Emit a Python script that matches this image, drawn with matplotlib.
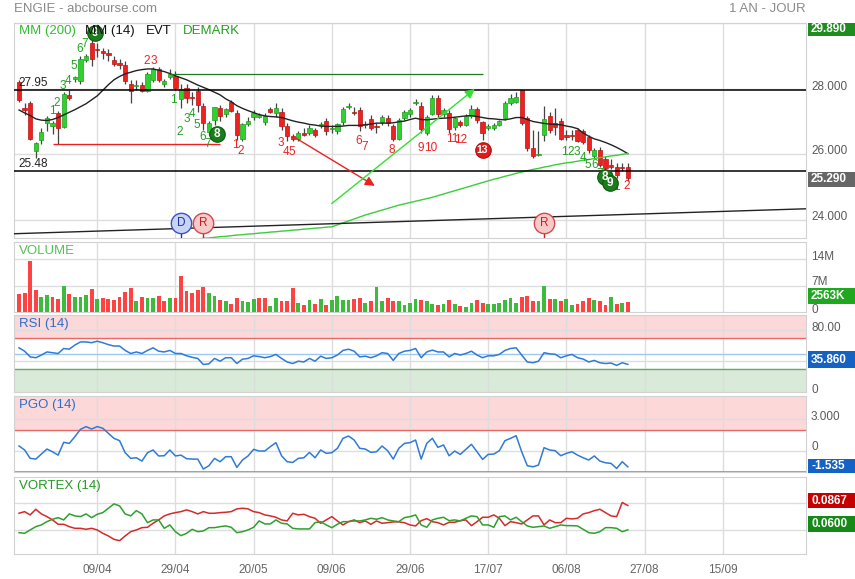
import numpy as np
import matplotlib
matplotlib.use("Agg")
import matplotlib.pyplot as plt
from matplotlib.patches import Rectangle

plt.rcParams['font.family'] = ['Liberation Sans', 'DejaVu Sans']

# ---------------- data ----------------
opens = [28.20, 27.40, 27.55, 26.10, 26.45, 26.94, 26.86, 27.26, 26.84, 27.80,
         28.28, 28.24, 28.88, 29.39, 29.20, 29.14, 29.10, 28.88, 28.79, 28.73,
         28.15, 28.09, 28.12, 27.94, 28.27, 28.60, 28.15, 28.36, 28.38, 27.67,
         28.03, 27.76, 27.94, 27.48, 26.67, 27.03, 27.42, 27.24, 27.58, 27.27,
         26.48, 26.91, 27.15, 27.15, 26.97, 27.39, 27.27, 27.30, 26.85, 26.55,
         26.48, 26.64, 26.64, 26.73, 26.88, 27.00, 26.76, 26.70, 26.97, 27.45,
         27.30, 27.36, 26.88, 27.09, 26.86, 26.97, 27.12, 26.85, 26.48, 27.12,
         27.24, 27.55, 27.48, 26.64, 27.24, 27.73, 27.24, 27.27, 26.82, 26.97,
         26.88, 27.18, 27.39, 26.97, 26.79, 26.79, 26.88, 27.12, 27.55, 27.60,
         27.95, 27.12, 26.18, 25.97, 26.58, 27.18, 26.94, 27.00, 26.60, 26.58,
         26.73, 26.70, 26.52, 25.94, 26.12, 25.85, 25.67, 25.60, 25.60, 25.60]
highs = [28.25, 27.55, 27.62, 26.38, 26.80, 27.17, 27.00, 27.32, 27.90, 27.95,
         28.40, 29.00, 29.05, 29.62, 29.40, 29.25, 29.20, 29.00, 28.90, 28.85,
         28.25, 28.25, 28.20, 28.50, 28.65, 28.65, 28.30, 28.60, 28.55, 28.15,
         28.15, 27.90, 28.05, 27.55, 27.00, 27.45, 27.50, 27.42, 27.66, 27.35,
         26.96, 27.15, 27.35, 27.25, 27.25, 27.45, 27.55, 27.42, 26.95, 26.62,
         26.70, 26.80, 26.88, 26.80, 26.97, 27.10, 26.90, 26.95, 27.45, 27.55,
         27.45, 27.45, 27.00, 27.20, 26.95, 27.20, 27.20, 26.92, 27.10, 27.35,
         27.40, 27.68, 27.60, 27.20, 27.80, 27.80, 27.40, 27.35, 27.15, 27.05,
         27.22, 27.50, 27.45, 27.00, 26.92, 26.95, 27.05, 27.62, 27.85, 27.90,
         27.97, 27.18, 26.75, 26.70, 27.48, 27.28, 27.40, 27.12, 26.75, 26.75,
         26.80, 26.78, 26.60, 26.20, 26.22, 25.95, 25.85, 25.75, 25.75, 25.75]
lows = [27.60, 27.20, 26.45, 25.88, 26.30, 26.70, 26.62, 26.30, 26.80, 27.65,
        28.20, 28.15, 28.80, 28.70, 28.95, 28.90, 28.85, 28.70, 28.60, 28.15,
        27.55, 27.95, 27.90, 27.90, 28.20, 28.20, 28.05, 28.30, 27.95, 27.40,
        27.55, 27.50, 27.30, 26.75, 26.60, 26.90, 27.00, 27.15, 27.30, 26.45,
        26.42, 26.85, 27.05, 27.10, 26.90, 27.25, 27.15, 26.75, 26.40, 26.42,
        26.42, 26.55, 26.58, 26.52, 26.80, 26.60, 26.65, 26.62, 26.90, 27.38,
        27.20, 26.70, 26.80, 26.75, 26.65, 26.90, 26.85, 26.40, 26.45, 27.05,
        27.15, 27.50, 26.65, 26.60, 27.20, 27.15, 27.15, 26.65, 26.75, 26.82,
        26.85, 27.12, 26.95, 26.45, 26.75, 26.75, 26.85, 27.05, 27.50, 27.55,
        26.90, 26.10, 25.90, 25.95, 26.40, 26.65, 26.60, 26.45, 26.45, 26.45,
        26.38, 26.30, 26.05, 25.90, 25.62, 25.52, 25.55, 25.28, 25.50, 25.20]
closes = [27.65, 27.35, 26.48, 26.33, 26.69, 27.11, 26.96, 26.79, 27.85, 27.70,
          28.36, 28.91, 29.00, 28.91, 29.17, 29.10, 29.03, 28.76, 28.73, 28.24,
          27.94, 28.12, 27.94, 28.45, 28.60, 28.27, 28.24, 28.45, 28.03, 28.00,
          27.73, 27.70, 27.50, 26.94, 26.94, 27.45, 27.18, 27.39, 27.33, 26.58,
          26.91, 27.00, 27.27, 27.21, 27.18, 27.30, 27.42, 26.85, 26.55, 26.48,
          26.64, 26.60, 26.79, 26.58, 26.91, 26.70, 26.80, 26.91, 27.39, 27.48,
          27.27, 26.85, 26.91, 26.80, 26.83, 27.15, 26.94, 26.48, 27.05, 27.30,
          27.36, 27.60, 26.76, 27.15, 27.70, 27.24, 27.36, 26.76, 27.12, 26.88,
          27.18, 27.39, 27.03, 26.64, 26.85, 26.88, 27.00, 27.55, 27.70, 27.76,
          26.94, 26.18, 25.94, 26.00, 27.09, 26.75, 26.82, 26.48, 26.52, 26.56,
          26.42, 26.36, 26.12, 26.12, 25.67, 25.58, 25.61, 25.36, 25.58, 25.29]

mm14 = [27.35, 27.26, 27.18, 27.08, 27.04, 27.03, 27.06, 27.12, 27.20, 27.28,
        27.36, 27.45, 27.54, 27.66, 27.78, 27.95, 28.12, 28.27, 28.37, 28.45,
        28.50, 28.55, 28.58, 28.60, 28.60, 28.56, 28.52, 28.46, 28.39, 28.33,
        28.27, 28.19, 28.11, 28.04, 27.97, 27.89, 27.81, 27.69, 27.60, 27.48,
        27.40, 27.33, 27.27, 27.21, 27.17, 27.15, 27.14, 27.12, 27.07, 27.02,
        26.98, 26.95, 26.91, 26.89, 26.86, 26.85, 26.85, 26.85, 26.86, 26.88,
        26.88, 26.88, 26.90, 26.92, 26.95, 26.95, 26.95, 26.96, 26.99, 27.01,
        27.06, 27.10, 27.06, 27.05, 27.07, 27.09, 27.10, 27.11, 27.13, 27.15,
        27.17, 27.18, 27.15, 27.12, 27.09, 27.08, 27.06, 27.05, 27.08, 27.12,
        27.12, 27.06, 27.00, 26.97, 26.94, 26.92, 26.91, 26.90, 26.86, 26.83,
        26.78, 26.65, 26.55, 26.47, 26.42, 26.36, 26.29, 26.21, 26.12, 26.02]

mm200 = [np.nan] * 30 + [
    23.38, 23.40, 23.42, 23.44, 23.45, 23.47, 23.49, 23.50, 23.52, 23.54,
    23.55, 23.57, 23.58, 23.60, 23.61, 23.63, 23.64, 23.66, 23.67, 23.69,
    23.70, 23.72, 23.73, 23.75, 23.76, 23.78, 23.79, 23.85, 23.91, 23.97,
    24.03, 24.09, 24.15, 24.20, 24.25, 24.30, 24.35, 24.40, 24.45, 24.49,
    24.53, 24.57, 24.61, 24.65, 24.69, 24.74, 24.79, 24.84, 24.89, 24.94,
    24.99, 25.04, 25.09, 25.14, 25.19, 25.24, 25.28, 25.33, 25.37, 25.42,
    25.46, 25.50, 25.54, 25.57, 25.61, 25.64, 25.68, 25.71, 25.74, 25.76,
    25.79, 25.82, 25.84, 25.87, 25.90, 25.92, 25.95, 25.97, 26.00, 26.02]

volume_m = [4.67, 5.12, 13.46, 5.83, 4.04, 4.49, 3.95, 3.41, 7.00, 4.67,
            4.04, 4.04, 4.49, 6.10, 3.41, 3.77, 3.41, 3.14, 4.04, 5.38,
            6.28, 2.96, 3.95, 3.77, 3.59, 4.13, 2.96, 3.59, 3.59, 9.42,
            5.56, 4.94, 5.83, 6.55, 4.94, 4.22, 3.14, 2.96, 2.15, 3.77,
            2.87, 2.69, 3.41, 3.77, 3.77, 1.53, 3.59, 2.96, 2.96, 6.46,
            2.42, 1.97, 3.14, 2.24, 3.41, 1.79, 3.14, 4.31, 3.14, 3.14,
            3.41, 3.77, 2.51, 2.96, 6.55, 2.87, 3.59, 2.78, 2.87, 1.79,
            2.42, 3.32, 3.14, 2.87, 2.24, 1.97, 2.24, 3.05, 2.15, 1.62,
            1.44, 2.33, 3.05, 2.33, 2.15, 2.06, 2.42, 3.05, 3.59, 2.51,
            3.95, 4.13, 2.87, 2.87, 7.00, 3.41, 3.41, 2.87, 3.32, 1.79,
            2.06, 2.87, 3.59, 3.05, 2.96, 1.97, 3.95, 2.24, 2.33, 2.56]

rsi = [57.4, 53, 45.6, 44.5, 48, 52, 51, 50, 56.5, 55.6,
       61, 65, 65, 64, 66, 64, 61.5, 59.7, 59.7, 54,
       50, 52, 50, 54, 57.4, 53, 52, 54, 50, 50,
       47, 45, 43.6, 35.7, 36.6, 43.6, 40, 44.5, 44.5, 37,
       42.6, 43.6, 47, 46, 44.5, 46, 48.8, 43.6, 39, 37,
       40, 39, 43.6, 40, 46.5, 43.6, 44.5, 48, 54, 55.6,
       53, 45.6, 46.5, 44.5, 47, 51, 50, 41, 50, 53,
       54, 56.5, 44.5, 52, 54.4, 52, 52, 45.6, 50, 48,
       50, 53, 48, 44.5, 47, 47, 48.8, 54, 56.5, 57.4,
       48, 39, 38, 40, 51, 49.6, 49, 44.5, 47, 48.8,
       44.5, 42.8, 39, 41, 38, 37, 37.6, 34.6, 38, 35.86]

pgo = [0.45, 0.07, -0.73, -0.80, -0.32, 0.16, -0.10, -0.42, 0.80, 0.70,
       1.34, 2.04, 2.30, 2.07, 2.30, 2.14, 1.66, 1.18, 0.96, -0.19,
       -0.73, -0.67, -0.99, -0.19, 0.07, -0.50, -0.48, 0.07, -0.50, -0.42,
       -0.76, -0.80, -0.80, -1.75, -1.43, -0.73, -1.05, -0.57, -0.57, -1.59,
       -0.89, -0.50, 0.13, -0.03, -0.03, 0.39, 0.77, -0.48, -1.05, -1.12,
       -0.73, -0.67, -0.16, -0.67, 0.07, -0.25, -0.19, 0.23, 1.18, 1.40,
       1.02, 0.23, 0.16, -0.16, -0.10, 0.45, 0.00, -0.80, 0.23, 0.70,
       0.77, 1.02, -0.80, 0.70, 1.18, 0.32, 0.55, -0.48, -0.03, -0.35,
       0.13, 0.61, -0.10, -0.83, -0.35, -0.32, 0.00, 0.96, 1.18, 1.43,
       -0.10, -1.43, -1.53, -1.37, 0.29, 0.07, 0.00, -0.48, -0.25, -0.10,
       -0.42, -0.67, -0.89, -0.50, -0.99, -1.15, -1.21, -1.69, -1.05, -1.535]

vortex_red = [0.0782, 0.0800, 0.0764, 0.0826, 0.0775, 0.0745, 0.0709, 0.0661, 0.0661, 0.0635,
              0.0617, 0.0617, 0.0606, 0.0617, 0.0599, 0.0562, 0.0533, 0.0496, 0.0481, 0.0533,
              0.0580, 0.0599, 0.0624, 0.0628, 0.0672, 0.0709, 0.0753, 0.0775, 0.0789, 0.0800,
              0.0819, 0.0800, 0.0775, 0.0800, 0.0782, 0.0782, 0.0789, 0.0793, 0.0800, 0.0830,
              0.0837, 0.0830, 0.0800, 0.0789, 0.0764, 0.0753, 0.0738, 0.0709, 0.0698, 0.0782,
              0.0764, 0.0771, 0.0745, 0.0727, 0.0672, 0.0709, 0.0745, 0.0698, 0.0654, 0.0690,
              0.0709, 0.0679, 0.0698, 0.0661, 0.0698, 0.0672, 0.0679, 0.0687, 0.0687, 0.0679,
              0.0654, 0.0643, 0.0701, 0.0723, 0.0690, 0.0679, 0.0654, 0.0683, 0.0683, 0.0701,
              0.0709, 0.0646, 0.0690, 0.0738, 0.0738, 0.0764, 0.0727, 0.0646, 0.0690, 0.0679,
              0.0665, 0.0709, 0.0753, 0.0753, 0.0654, 0.0709, 0.0679, 0.0679, 0.0727, 0.0720,
              0.0727, 0.0775, 0.0789, 0.0811, 0.0826, 0.0789, 0.0753, 0.0745, 0.0900, 0.0867]
vortex_green = [0.0569, 0.0562, 0.0599, 0.0635, 0.0654, 0.0690, 0.0716, 0.0734, 0.0709, 0.0775,
                0.0753, 0.0745, 0.0775, 0.0734, 0.0771, 0.0789, 0.0837, 0.0885, 0.0863, 0.0775,
                0.0753, 0.0811, 0.0775, 0.0679, 0.0709, 0.0709, 0.0617, 0.0654, 0.0580, 0.0536,
                0.0562, 0.0606, 0.0580, 0.0588, 0.0624, 0.0624, 0.0635, 0.0643, 0.0628, 0.0569,
                0.0580, 0.0599, 0.0628, 0.0698, 0.0665, 0.0665, 0.0709, 0.0672, 0.0665, 0.0617,
                0.0610, 0.0610, 0.0610, 0.0679, 0.0690, 0.0654, 0.0624, 0.0661, 0.0690, 0.0690,
                0.0698, 0.0698, 0.0709, 0.0727, 0.0716, 0.0734, 0.0709, 0.0698, 0.0690, 0.0734,
                0.0745, 0.0764, 0.0654, 0.0628, 0.0709, 0.0727, 0.0738, 0.0701, 0.0709, 0.0698,
                0.0727, 0.0753, 0.0745, 0.0654, 0.0654, 0.0628, 0.0745, 0.0753, 0.0709, 0.0738,
                0.0690, 0.0643, 0.0628, 0.0635, 0.0643, 0.0617, 0.0635, 0.0654, 0.0646, 0.0646,
                0.0643, 0.0606, 0.0569, 0.0562, 0.0580, 0.0624, 0.0624, 0.0617, 0.0580, 0.0600]

tick_pos = [14, 28, 42, 56, 70, 84, 98, 112, 126]
tick_labels = ['09/04', '29/04', '20/05', '09/06', '29/06', '17/07', '06/08', '27/08', '15/09']

# horizontal levels and trend objects (bar index, price)
resist_level = 27.95
support_level = 25.48
green_level = (28.46, 27, 83)
red_level = (26.30, 6, 36)
trend_line = ((-0.9, 23.58), (140.9, 24.34))
red_arrow = ((49.6, 26.49), (63.7, 25.04))
green_arrow = ((56.0, 24.50), (81.6, 27.99))
events = [('D', 29, '#c9d3f5', '#3a55c4', '#22349a'),
          ('R', 33, '#f8c9c9', '#d44a4a', '#c62020'),
          ('R', 94, '#f8c9c9', '#d44a4a', '#c62020')]
event_price = 23.92

demark_green = [("1", 5.9, 27.33), ("2", 6.8, 27.55), ("3", 7.9, 28.09), ("4", 8.8, 28.24),
                ("5", 9.8, 28.70), ("6", 10.9, 29.21), ("7", 11.8, 29.36),
                ("1", 27.7, 27.64), ("2", 28.8, 26.67), ("3", 30.1, 27.09), ("4", 31.0, 27.24),
                ("5", 31.9, 26.88), ("6", 32.8, 26.52), ("7", 33.8, 26.30),
                ("1", 97.7, 26.06), ("2", 98.8, 26.06), ("3", 99.9, 26.06), ("4", 101.0, 25.88),
                ("5", 101.8, 25.67), ("6", 103.1, 25.67), ("7", 104.0, 25.39)]
demark_red = [("2", 22.8, 28.85), ("3", 24.1, 28.85), ("1", 38.8, 26.27), ("2", 39.7, 26.09),
              ("3", 46.9, 26.33), ("4", 47.8, 26.06), ("5", 48.9, 26.06), ("6", 60.9, 26.39),
              ("7", 61.8, 26.21), ("8", 66.8, 26.12), ("9", 72.0, 26.18), ("10", 73.7, 26.18),
              ("11", 77.5, 26.48), ("12", 79.0, 26.45), ("1", 106.9, 25.00), ("2", 108.8, 25.03)]
demark_circles = [("9", 13.6, 29.70, '#1d7d1d'), ("8", 35.4, 26.63, '#1d7d1d'),
                  ("13", 83.0, 26.12, '#e21c1c'), ("8", 104.9, 25.30, '#1d7d1d'),
                  ("9", 105.8, 25.12, '#1d7d1d')]

# ---------------- figure ----------------
W, H = 855, 579
fig = plt.figure(figsize=(W / 100, H / 100), dpi=100)


def rect(x0, y0, x1, y1):
    return [x0 / W, 1 - y1 / H, (x1 - x0) / W, (y1 - y0) / H]


def ftext(x, y, s, **kw):
    kw.setdefault('va', 'center')
    return fig.text(x / W, 1 - y / H, s, **kw)


def vbox(y0, y1, s, color):
    fig.add_artist(Rectangle((808 / W, 1 - y1 / H), 47 / W, (y1 - y0) / H,
                             transform=fig.transFigure, facecolor=color,
                             edgecolor='none', zorder=5))
    ftext(811, (y0 + y1) / 2, s, color='white', fontsize=8.5, fontweight='bold', zorder=6)


XL = (-0.9, 140.9)
o = np.array(opens); c = np.array(closes); h = np.array(highs); l = np.array(lows)
n = len(c)
idx = np.arange(n)

ax_main = fig.add_axes(rect(14, 23, 806, 238))
ax_vol = fig.add_axes(rect(14, 242, 806, 312))
ax_rsi = fig.add_axes(rect(14, 315, 806, 392))
ax_pgo = fig.add_axes(rect(14, 396, 806, 472))
ax_vtx = fig.add_axes(rect(14, 477, 806, 554))

setups = [(ax_main, (23.45, 30.0), [24, 26, 28, 30]),
          (ax_vol, (0, 18.5), [7, 14]),
          (ax_rsi, (0, 100), [40, 80]),
          (ax_pgo, (-2.03, 5.22), [0, 3]),
          (ax_vtx, (0.0335, 0.118), [0.06, 0.09])]
for ax, yl, yt in setups:
    ax.set_xlim(XL)
    ax.set_ylim(yl)
    ax.set_xticks(tick_pos)
    ax.set_yticks(yt)
    ax.tick_params(length=0, labelbottom=False, labelleft=False)
    ax.grid(True, color='#dddddd', lw=1)
    ax.set_axisbelow(True)
    for sp in ax.spines.values():
        sp.set_color('#d2d2d2')

ax_vtx.set_xticks(tick_pos, tick_labels)
ax_vtx.tick_params(labelbottom=True, pad=7, labelcolor='#666666', labelsize=8.5)

# ---- main panel ----
up = c >= o
body_lo = np.minimum(o, c)
body_h = np.maximum(np.abs(c - o), 0.03)
ax_main.vlines(idx, l, h, color='#444444', lw=0.9, zorder=2)
ax_main.bar(idx, body_h, bottom=body_lo, width=0.76,
            color=np.where(up, '#2ed12e', '#ee2020'),
            edgecolor=np.where(up, '#1f9f1f', '#b81414'), linewidth=0.5, zorder=3)
ax_main.plot(idx, mm14, color='#222222', lw=1.0, zorder=4)
ax_main.plot(idx, mm200, color='#3ccc3c', lw=1.0, zorder=4)

ax_main.axhline(resist_level, color='black', lw=1.1, zorder=4)
ax_main.axhline(support_level, color='black', lw=1.1, zorder=4)
ax_main.hlines(green_level[0], green_level[1], green_level[2], color='#1e7a1e', lw=0.9, zorder=4)
ax_main.hlines(red_level[0], red_level[1], red_level[2], color='#ee2020', lw=1.0, zorder=4)
ax_main.plot([trend_line[0][0], trend_line[1][0]], [trend_line[0][1], trend_line[1][1]],
             color='#222222', lw=1.0, zorder=4)
ax_main.annotate('', xy=red_arrow[1], xytext=red_arrow[0],
                 arrowprops=dict(arrowstyle='-|>', color='#ee2020', lw=1.0,
                                 mutation_scale=14, shrinkA=0, shrinkB=0), zorder=5)
ax_main.annotate('', xy=green_arrow[1], xytext=green_arrow[0],
                 arrowprops=dict(arrowstyle='-|>', color='#33e033', lw=1.0,
                                 mutation_scale=14, shrinkA=0, shrinkB=0), zorder=5)

for lab, i, fc, ec, tc in events:
    ax_main.vlines(i, 23.45, event_price - 0.3, color=tc, lw=1.0, zorder=5)
    ax_main.scatter([i], [event_price], s=215, facecolor=fc, edgecolor=ec, lw=1.0, zorder=6)
    ax_main.text(i, event_price, lab, ha='center', va='center', fontsize=8.5, color=tc, zorder=7)

for s, i, p in demark_green:
    ax_main.text(i, p, s, ha='center', va='center', fontsize=8.5, color='#22a022', zorder=6)
for s, i, p in demark_red:
    ax_main.text(i, p, s, ha='center', va='center', fontsize=8.5, color='#ee2222', zorder=6)
for s, i, p, col in demark_circles:
    ax_main.scatter([i], [p], s=125, facecolor=col, edgecolor='#0d5a0d' if col != '#e21c1c' else '#b01010',
                    lw=0.8, zorder=7)
    ax_main.text(i, p, s, ha='center', va='center', fontsize=8.5 if len(s) == 1 else 7.5,
                 color='white', fontweight='bold', zorder=8)

ax_main.text(-0.1, resist_level + 0.04, '27.95', ha='left', va='bottom', fontsize=8.5, color='#222222', zorder=6)
ax_main.text(-0.1, support_level + 0.04, '25.48', ha='left', va='bottom', fontsize=8.5, color='#222222', zorder=6)

# ---- volume ----
prev = np.concatenate([[c[0] + 1], c[:-1]])
vcol = np.where(c >= prev, '#3dbb3d', '#ff4343')
ax_vol.bar(idx, volume_m, width=0.68, color=vcol, zorder=3)

# ---- RSI ----
ax_rsi.axhspan(70, 100, color='#fdd8d8', zorder=0.2)
ax_rsi.axhspan(0, 30, color='#d9ead9', zorder=0.2)
ax_rsi.axhline(70, color='#e66a6a', lw=1.0, zorder=2)
ax_rsi.axhline(30, color='#6aa86a', lw=1.0, zorder=2)
ax_rsi.axhline(50, color='#9fc7ef', lw=1.0, zorder=2)
ax_rsi.plot(idx, rsi, color='#2f7bd6', lw=1.1, zorder=4)

# ---- PGO ----
ax_pgo.axhspan(2, 6, color='#fdd8d8', zorder=0.2)
ax_pgo.axhline(2, color='#e66a6a', lw=1.0, zorder=2)
ax_pgo.axhline(-2, color='#6aa86a', lw=1.2, zorder=2)
ax_pgo.plot(idx, pgo, color='#2f7bd6', lw=1.1, zorder=4)

# ---- Vortex ----
ax_vtx.plot(idx, vortex_red, color='#d42a2a', lw=1.1, zorder=4)
ax_vtx.plot(idx, vortex_green, color='#2ea02e', lw=1.1, zorder=4)

# ---- texts ----
ftext(14, 8.5, 'ENGIE - abcbourse.com', color='#8a8a8a', fontsize=9.5)
ftext(806, 8.5, '1 AN - JOUR', color='#8a8a8a', fontsize=9.5, ha='right')

ftext(19, 31, 'MM (200)', color='#33bb33', fontsize=9.5)
ftext(85, 31, 'MM (14)', color='#111111', fontsize=9.5)
ftext(146, 31, 'EVT', color='#111111', fontsize=9.5)
ftext(183, 31, 'DEMARK', color='#22a022', fontsize=9.5)
ftext(19, 250.5, 'VOLUME', color='#55c055', fontsize=9.5)
ftext(19, 324, 'RSI (14)', color='#2a6fcf', fontsize=9.5)
ftext(19, 405, 'PGO (14)', color='#2a6fcf', fontsize=9.5)
ftext(19, 486, 'VORTEX (14)', color='#229a22', fontsize=9.5)

gray = '#5a5a5a'
for y, s in [(87, '28.000'), (151, '26.000'), (217, '24.000'),
             (257, '14M'), (282, '7M'), (310, '0'),
             (328, '80.00'), (390, '0'),
             (416.7, '3.000'), (447.3, '0')]:
    ftext(811, y, s, color=gray, fontsize=8.5)

vbox(22.7, 36, '29.890', '#1e8c1e')
vbox(171.7, 186.7, '25.290', '#666666')
vbox(288.3, 304.3, '2563K', '#1fa81f')
vbox(351, 368.3, '35.860', '#1462c4')
vbox(459.3, 473.3, '-1.535', '#1462c4')
vbox(492.7, 508.3, '0.0867', '#c40000')
vbox(516, 531.7, '0.0600', '#168a16')

fig.savefig('out.png', dpi=100)
